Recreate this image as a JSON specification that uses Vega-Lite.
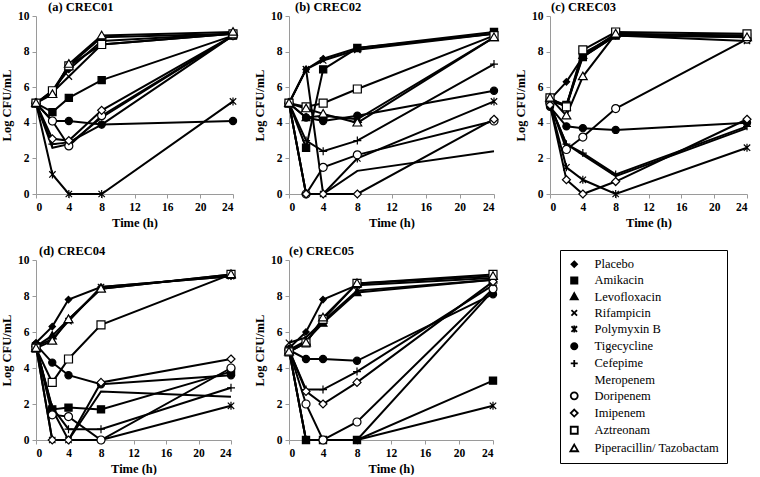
{
"$schema": "https://vega.github.io/schema/vega-lite/v6.json",
"padding": {"left": 0, "top": 0, "right": 0, "bottom": 0},
"background": "white",
"spacing": 15,
"config": {
  "view": {"stroke": null},
  "font": "Liberation Serif",
  "axis": {"grid": false, "labelOverlap": false, "labelFont": "Liberation Serif", "labelFontWeight": "bold", "labelFontSize": 11.5, "labelColor": "black", "titleFont": "Liberation Serif", "titleFontWeight": "bold", "titleFontSize": 12.5, "titleColor": "black", "domainColor": "#9a9a9a", "tickColor": "#9a9a9a", "tickSize": 4, "labelPadding": 3},
  "title": {"font": "Liberation Serif", "fontWeight": "bold", "fontSize": 12.5, "anchor": "start", "frame": "group", "offset": -3, "color": "black"},
  "legend": {"title": null, "orient": "none", "legendX": 524, "legendY": 234, "strokeColor": "black", "padding": 8, "labelFont": "Liberation Serif", "labelFontSize": 12.5, "labelFontWeight": "normal", "labelColor": "black", "symbolSize": 49, "symbolStrokeWidth": 1.8, "symbolStrokeColor": "black", "rowPadding": 2.2, "labelOffset": 14}
},
"resolve": {"scale": {"x": "independent", "y": "independent", "shape": "shared", "fill": "shared"}, "legend": {"shape": "shared", "fill": "shared"}},
"data": {"values": [
{"panel":"a","drug":"Placebo","time":0,"cfu":5.1},{"panel":"a","drug":"Placebo","time":2,"cfu":5.8},{"panel":"a","drug":"Placebo","time":4,"cfu":7.0},{"panel":"a","drug":"Placebo","time":8,"cfu":8.6},{"panel":"a","drug":"Placebo","time":24,"cfu":9.0},
{"panel":"a","drug":"Amikacin","time":0,"cfu":5.1},{"panel":"a","drug":"Amikacin","time":2,"cfu":4.6},{"panel":"a","drug":"Amikacin","time":4,"cfu":5.4},{"panel":"a","drug":"Amikacin","time":8,"cfu":6.4},{"panel":"a","drug":"Amikacin","time":24,"cfu":8.9},
{"panel":"a","drug":"Levofloxacin","time":0,"cfu":5.1},{"panel":"a","drug":"Levofloxacin","time":2,"cfu":5.7},{"panel":"a","drug":"Levofloxacin","time":4,"cfu":7.2},{"panel":"a","drug":"Levofloxacin","time":8,"cfu":8.8},{"panel":"a","drug":"Levofloxacin","time":24,"cfu":9.0},
{"panel":"a","drug":"Rifampicin","time":0,"cfu":5.1},{"panel":"a","drug":"Rifampicin","time":2,"cfu":5.7},{"panel":"a","drug":"Rifampicin","time":4,"cfu":6.6},{"panel":"a","drug":"Rifampicin","time":8,"cfu":8.4},{"panel":"a","drug":"Rifampicin","time":24,"cfu":9.0},
{"panel":"a","drug":"Polymyxin B","time":0,"cfu":5.1},{"panel":"a","drug":"Polymyxin B","time":2,"cfu":1.1},{"panel":"a","drug":"Polymyxin B","time":4,"cfu":0},{"panel":"a","drug":"Polymyxin B","time":8,"cfu":0},{"panel":"a","drug":"Polymyxin B","time":24,"cfu":5.2},
{"panel":"a","drug":"Tigecycline","time":0,"cfu":5.1},{"panel":"a","drug":"Tigecycline","time":2,"cfu":4.1},{"panel":"a","drug":"Tigecycline","time":4,"cfu":4.1},{"panel":"a","drug":"Tigecycline","time":8,"cfu":3.9},{"panel":"a","drug":"Tigecycline","time":24,"cfu":4.1},
{"panel":"a","drug":"Cefepime","time":0,"cfu":5.1},{"panel":"a","drug":"Cefepime","time":2,"cfu":2.8},{"panel":"a","drug":"Cefepime","time":4,"cfu":2.9},{"panel":"a","drug":"Cefepime","time":8,"cfu":3.9},{"panel":"a","drug":"Cefepime","time":24,"cfu":8.9},
{"panel":"a","drug":"Meropenem","time":0,"cfu":5.1},{"panel":"a","drug":"Meropenem","time":2,"cfu":2.6},{"panel":"a","drug":"Meropenem","time":4,"cfu":2.8},{"panel":"a","drug":"Meropenem","time":8,"cfu":4.3},{"panel":"a","drug":"Meropenem","time":24,"cfu":8.9},
{"panel":"a","drug":"Doripenem","time":0,"cfu":5.1},{"panel":"a","drug":"Doripenem","time":2,"cfu":4.1},{"panel":"a","drug":"Doripenem","time":4,"cfu":2.7},{"panel":"a","drug":"Doripenem","time":8,"cfu":4.4},{"panel":"a","drug":"Doripenem","time":24,"cfu":8.9},
{"panel":"a","drug":"Imipenem","time":0,"cfu":5.1},{"panel":"a","drug":"Imipenem","time":2,"cfu":3.1},{"panel":"a","drug":"Imipenem","time":4,"cfu":3.0},{"panel":"a","drug":"Imipenem","time":8,"cfu":4.7},{"panel":"a","drug":"Imipenem","time":24,"cfu":8.9},
{"panel":"a","drug":"Aztreonam","time":0,"cfu":5.1},{"panel":"a","drug":"Aztreonam","time":2,"cfu":5.8},{"panel":"a","drug":"Aztreonam","time":4,"cfu":7.2},{"panel":"a","drug":"Aztreonam","time":8,"cfu":8.4},{"panel":"a","drug":"Aztreonam","time":24,"cfu":9.0},
{"panel":"a","drug":"Piperacillin/ Tazobactam","time":0,"cfu":5.1},{"panel":"a","drug":"Piperacillin/ Tazobactam","time":2,"cfu":5.6},{"panel":"a","drug":"Piperacillin/ Tazobactam","time":4,"cfu":7.3},{"panel":"a","drug":"Piperacillin/ Tazobactam","time":8,"cfu":8.9},{"panel":"a","drug":"Piperacillin/ Tazobactam","time":24,"cfu":9.1},

{"panel":"b","drug":"Placebo","time":0,"cfu":5.1},{"panel":"b","drug":"Placebo","time":2,"cfu":7.0},{"panel":"b","drug":"Placebo","time":4,"cfu":7.6},{"panel":"b","drug":"Placebo","time":8,"cfu":8.2},{"panel":"b","drug":"Placebo","time":24,"cfu":9.0},
{"panel":"b","drug":"Amikacin","time":0,"cfu":5.1},{"panel":"b","drug":"Amikacin","time":2,"cfu":2.6},{"panel":"b","drug":"Amikacin","time":4,"cfu":7.0},{"panel":"b","drug":"Amikacin","time":8,"cfu":8.2},{"panel":"b","drug":"Amikacin","time":24,"cfu":9.1},
{"panel":"b","drug":"Levofloxacin","time":0,"cfu":5.1},{"panel":"b","drug":"Levofloxacin","time":2,"cfu":4.3},{"panel":"b","drug":"Levofloxacin","time":4,"cfu":4.4},{"panel":"b","drug":"Levofloxacin","time":8,"cfu":4.2},{"panel":"b","drug":"Levofloxacin","time":24,"cfu":8.8},
{"panel":"b","drug":"Rifampicin","time":0,"cfu":5.1},{"panel":"b","drug":"Rifampicin","time":2,"cfu":7.0},{"panel":"b","drug":"Rifampicin","time":4,"cfu":7.5},{"panel":"b","drug":"Rifampicin","time":8,"cfu":8.1},{"panel":"b","drug":"Rifampicin","time":24,"cfu":9.0},
{"panel":"b","drug":"Polymyxin B","time":0,"cfu":5.1},{"panel":"b","drug":"Polymyxin B","time":2,"cfu":7.0},{"panel":"b","drug":"Polymyxin B","time":4,"cfu":0},{"panel":"b","drug":"Polymyxin B","time":8,"cfu":2.0},{"panel":"b","drug":"Polymyxin B","time":24,"cfu":5.2},
{"panel":"b","drug":"Tigecycline","time":0,"cfu":5.1},{"panel":"b","drug":"Tigecycline","time":2,"cfu":4.3},{"panel":"b","drug":"Tigecycline","time":4,"cfu":4.1},{"panel":"b","drug":"Tigecycline","time":8,"cfu":4.4},{"panel":"b","drug":"Tigecycline","time":24,"cfu":5.8},
{"panel":"b","drug":"Cefepime","time":0,"cfu":5.1},{"panel":"b","drug":"Cefepime","time":2,"cfu":3.0},{"panel":"b","drug":"Cefepime","time":4,"cfu":2.4},{"panel":"b","drug":"Cefepime","time":8,"cfu":3.0},{"panel":"b","drug":"Cefepime","time":24,"cfu":7.3},
{"panel":"b","drug":"Meropenem","time":0,"cfu":5.1},{"panel":"b","drug":"Meropenem","time":2,"cfu":0},{"panel":"b","drug":"Meropenem","time":4,"cfu":0},{"panel":"b","drug":"Meropenem","time":8,"cfu":1.3},{"panel":"b","drug":"Meropenem","time":24,"cfu":2.4},
{"panel":"b","drug":"Doripenem","time":0,"cfu":5.1},{"panel":"b","drug":"Doripenem","time":2,"cfu":0},{"panel":"b","drug":"Doripenem","time":4,"cfu":1.5},{"panel":"b","drug":"Doripenem","time":8,"cfu":2.2},{"panel":"b","drug":"Doripenem","time":24,"cfu":4.1},
{"panel":"b","drug":"Imipenem","time":0,"cfu":5.1},{"panel":"b","drug":"Imipenem","time":2,"cfu":0},{"panel":"b","drug":"Imipenem","time":4,"cfu":0},{"panel":"b","drug":"Imipenem","time":8,"cfu":0},{"panel":"b","drug":"Imipenem","time":24,"cfu":4.2},
{"panel":"b","drug":"Aztreonam","time":0,"cfu":5.1},{"panel":"b","drug":"Aztreonam","time":2,"cfu":4.9},{"panel":"b","drug":"Aztreonam","time":4,"cfu":5.1},{"panel":"b","drug":"Aztreonam","time":8,"cfu":5.9},{"panel":"b","drug":"Aztreonam","time":24,"cfu":8.9},
{"panel":"b","drug":"Piperacillin/ Tazobactam","time":0,"cfu":5.1},{"panel":"b","drug":"Piperacillin/ Tazobactam","time":2,"cfu":4.8},{"panel":"b","drug":"Piperacillin/ Tazobactam","time":4,"cfu":4.5},{"panel":"b","drug":"Piperacillin/ Tazobactam","time":8,"cfu":4.0},{"panel":"b","drug":"Piperacillin/ Tazobactam","time":24,"cfu":8.8},

{"panel":"c","drug":"Placebo","time":0,"cfu":5.3},{"panel":"c","drug":"Placebo","time":2,"cfu":6.3},{"panel":"c","drug":"Placebo","time":4,"cfu":7.7},{"panel":"c","drug":"Placebo","time":8,"cfu":8.9},{"panel":"c","drug":"Placebo","time":24,"cfu":8.9},
{"panel":"c","drug":"Amikacin","time":0,"cfu":5.3},{"panel":"c","drug":"Amikacin","time":2,"cfu":5.0},{"panel":"c","drug":"Amikacin","time":4,"cfu":7.7},{"panel":"c","drug":"Amikacin","time":8,"cfu":8.9},{"panel":"c","drug":"Amikacin","time":24,"cfu":8.8},
{"panel":"c","drug":"Levofloxacin","time":0,"cfu":5.3},{"panel":"c","drug":"Levofloxacin","time":2,"cfu":4.9},{"panel":"c","drug":"Levofloxacin","time":4,"cfu":7.8},{"panel":"c","drug":"Levofloxacin","time":8,"cfu":9.0},{"panel":"c","drug":"Levofloxacin","time":24,"cfu":8.9},
{"panel":"c","drug":"Rifampicin","time":0,"cfu":5.2},{"panel":"c","drug":"Rifampicin","time":2,"cfu":5.0},{"panel":"c","drug":"Rifampicin","time":4,"cfu":7.9},{"panel":"c","drug":"Rifampicin","time":8,"cfu":8.9},{"panel":"c","drug":"Rifampicin","time":24,"cfu":8.6},
{"panel":"c","drug":"Polymyxin B","time":0,"cfu":5.0},{"panel":"c","drug":"Polymyxin B","time":2,"cfu":1.5},{"panel":"c","drug":"Polymyxin B","time":4,"cfu":0.8},{"panel":"c","drug":"Polymyxin B","time":8,"cfu":0},{"panel":"c","drug":"Polymyxin B","time":24,"cfu":2.6},
{"panel":"c","drug":"Tigecycline","time":0,"cfu":4.9},{"panel":"c","drug":"Tigecycline","time":2,"cfu":3.8},{"panel":"c","drug":"Tigecycline","time":4,"cfu":3.7},{"panel":"c","drug":"Tigecycline","time":8,"cfu":3.6},{"panel":"c","drug":"Tigecycline","time":24,"cfu":4.0},
{"panel":"c","drug":"Cefepime","time":0,"cfu":5.0},{"panel":"c","drug":"Cefepime","time":2,"cfu":2.8},{"panel":"c","drug":"Cefepime","time":4,"cfu":2.3},{"panel":"c","drug":"Cefepime","time":8,"cfu":1.1},{"panel":"c","drug":"Cefepime","time":24,"cfu":3.8},
{"panel":"c","drug":"Meropenem","time":0,"cfu":5.0},{"panel":"c","drug":"Meropenem","time":2,"cfu":2.8},{"panel":"c","drug":"Meropenem","time":4,"cfu":2.2},{"panel":"c","drug":"Meropenem","time":8,"cfu":1.0},{"panel":"c","drug":"Meropenem","time":24,"cfu":3.7},
{"panel":"c","drug":"Doripenem","time":0,"cfu":5.1},{"panel":"c","drug":"Doripenem","time":2,"cfu":2.5},{"panel":"c","drug":"Doripenem","time":4,"cfu":3.2},{"panel":"c","drug":"Doripenem","time":8,"cfu":4.8},{"panel":"c","drug":"Doripenem","time":24,"cfu":8.7},
{"panel":"c","drug":"Imipenem","time":0,"cfu":5.0},{"panel":"c","drug":"Imipenem","time":2,"cfu":0.8},{"panel":"c","drug":"Imipenem","time":4,"cfu":0},{"panel":"c","drug":"Imipenem","time":8,"cfu":0.7},{"panel":"c","drug":"Imipenem","time":24,"cfu":4.2},
{"panel":"c","drug":"Aztreonam","time":0,"cfu":5.4},{"panel":"c","drug":"Aztreonam","time":2,"cfu":4.9},{"panel":"c","drug":"Aztreonam","time":4,"cfu":8.1},{"panel":"c","drug":"Aztreonam","time":8,"cfu":9.1},{"panel":"c","drug":"Aztreonam","time":24,"cfu":9.0},
{"panel":"c","drug":"Piperacillin/ Tazobactam","time":0,"cfu":5.4},{"panel":"c","drug":"Piperacillin/ Tazobactam","time":2,"cfu":4.4},{"panel":"c","drug":"Piperacillin/ Tazobactam","time":4,"cfu":6.6},{"panel":"c","drug":"Piperacillin/ Tazobactam","time":8,"cfu":9.0},{"panel":"c","drug":"Piperacillin/ Tazobactam","time":24,"cfu":8.8},

{"panel":"d","drug":"Placebo","time":0,"cfu":5.4},{"panel":"d","drug":"Placebo","time":2,"cfu":6.3},{"panel":"d","drug":"Placebo","time":4,"cfu":7.8},{"panel":"d","drug":"Placebo","time":8,"cfu":8.5},{"panel":"d","drug":"Placebo","time":24,"cfu":9.1},
{"panel":"d","drug":"Amikacin","time":0,"cfu":5.2},{"panel":"d","drug":"Amikacin","time":2,"cfu":1.7},{"panel":"d","drug":"Amikacin","time":4,"cfu":1.8},{"panel":"d","drug":"Amikacin","time":8,"cfu":1.7},{"panel":"d","drug":"Amikacin","time":24,"cfu":3.8},
{"panel":"d","drug":"Levofloxacin","time":0,"cfu":5.2},{"panel":"d","drug":"Levofloxacin","time":2,"cfu":5.8},{"panel":"d","drug":"Levofloxacin","time":4,"cfu":6.7},{"panel":"d","drug":"Levofloxacin","time":8,"cfu":8.4},{"panel":"d","drug":"Levofloxacin","time":24,"cfu":9.2},
{"panel":"d","drug":"Rifampicin","time":0,"cfu":5.2},{"panel":"d","drug":"Rifampicin","time":2,"cfu":5.6},{"panel":"d","drug":"Rifampicin","time":4,"cfu":6.6},{"panel":"d","drug":"Rifampicin","time":8,"cfu":8.5},{"panel":"d","drug":"Rifampicin","time":24,"cfu":9.1},
{"panel":"d","drug":"Polymyxin B","time":0,"cfu":5.2},{"panel":"d","drug":"Polymyxin B","time":2,"cfu":0},{"panel":"d","drug":"Polymyxin B","time":4,"cfu":0},{"panel":"d","drug":"Polymyxin B","time":8,"cfu":0},{"panel":"d","drug":"Polymyxin B","time":24,"cfu":1.9},
{"panel":"d","drug":"Tigecycline","time":0,"cfu":5.3},{"panel":"d","drug":"Tigecycline","time":2,"cfu":4.3},{"panel":"d","drug":"Tigecycline","time":4,"cfu":3.6},{"panel":"d","drug":"Tigecycline","time":8,"cfu":3.1},{"panel":"d","drug":"Tigecycline","time":24,"cfu":3.6},
{"panel":"d","drug":"Cefepime","time":0,"cfu":5.2},{"panel":"d","drug":"Cefepime","time":2,"cfu":1.8},{"panel":"d","drug":"Cefepime","time":4,"cfu":0.6},{"panel":"d","drug":"Cefepime","time":8,"cfu":0.6},{"panel":"d","drug":"Cefepime","time":24,"cfu":2.9},
{"panel":"d","drug":"Meropenem","time":0,"cfu":5.2},{"panel":"d","drug":"Meropenem","time":2,"cfu":1.7},{"panel":"d","drug":"Meropenem","time":4,"cfu":0},{"panel":"d","drug":"Meropenem","time":8,"cfu":2.7},{"panel":"d","drug":"Meropenem","time":24,"cfu":2.4},
{"panel":"d","drug":"Doripenem","time":0,"cfu":5.2},{"panel":"d","drug":"Doripenem","time":2,"cfu":1.4},{"panel":"d","drug":"Doripenem","time":4,"cfu":1.3},{"panel":"d","drug":"Doripenem","time":8,"cfu":0},{"panel":"d","drug":"Doripenem","time":24,"cfu":4.0},
{"panel":"d","drug":"Imipenem","time":0,"cfu":5.2},{"panel":"d","drug":"Imipenem","time":2,"cfu":0},{"panel":"d","drug":"Imipenem","time":4,"cfu":0},{"panel":"d","drug":"Imipenem","time":8,"cfu":3.2},{"panel":"d","drug":"Imipenem","time":24,"cfu":4.5},
{"panel":"d","drug":"Aztreonam","time":0,"cfu":5.1},{"panel":"d","drug":"Aztreonam","time":2,"cfu":3.2},{"panel":"d","drug":"Aztreonam","time":4,"cfu":4.5},{"panel":"d","drug":"Aztreonam","time":8,"cfu":6.4},{"panel":"d","drug":"Aztreonam","time":24,"cfu":9.2},
{"panel":"d","drug":"Piperacillin/ Tazobactam","time":0,"cfu":5.1},{"panel":"d","drug":"Piperacillin/ Tazobactam","time":2,"cfu":5.5},{"panel":"d","drug":"Piperacillin/ Tazobactam","time":4,"cfu":6.7},{"panel":"d","drug":"Piperacillin/ Tazobactam","time":8,"cfu":8.4},{"panel":"d","drug":"Piperacillin/ Tazobactam","time":24,"cfu":9.2},

{"panel":"e","drug":"Placebo","time":0,"cfu":5.1},{"panel":"e","drug":"Placebo","time":2,"cfu":6.0},{"panel":"e","drug":"Placebo","time":4,"cfu":7.8},{"panel":"e","drug":"Placebo","time":8,"cfu":8.6},{"panel":"e","drug":"Placebo","time":24,"cfu":9.0},
{"panel":"e","drug":"Amikacin","time":0,"cfu":5.0},{"panel":"e","drug":"Amikacin","time":2,"cfu":0},{"panel":"e","drug":"Amikacin","time":4,"cfu":0},{"panel":"e","drug":"Amikacin","time":8,"cfu":0},{"panel":"e","drug":"Amikacin","time":24,"cfu":3.3},
{"panel":"e","drug":"Levofloxacin","time":0,"cfu":5.0},{"panel":"e","drug":"Levofloxacin","time":2,"cfu":5.5},{"panel":"e","drug":"Levofloxacin","time":4,"cfu":6.5},{"panel":"e","drug":"Levofloxacin","time":8,"cfu":8.2},{"panel":"e","drug":"Levofloxacin","time":24,"cfu":8.9},
{"panel":"e","drug":"Rifampicin","time":0,"cfu":5.4},{"panel":"e","drug":"Rifampicin","time":2,"cfu":5.7},{"panel":"e","drug":"Rifampicin","time":4,"cfu":6.6},{"panel":"e","drug":"Rifampicin","time":8,"cfu":8.3},{"panel":"e","drug":"Rifampicin","time":24,"cfu":8.9},
{"panel":"e","drug":"Polymyxin B","time":0,"cfu":5.0},{"panel":"e","drug":"Polymyxin B","time":2,"cfu":0},{"panel":"e","drug":"Polymyxin B","time":4,"cfu":0},{"panel":"e","drug":"Polymyxin B","time":8,"cfu":0},{"panel":"e","drug":"Polymyxin B","time":24,"cfu":1.9},
{"panel":"e","drug":"Tigecycline","time":0,"cfu":5.0},{"panel":"e","drug":"Tigecycline","time":2,"cfu":4.5},{"panel":"e","drug":"Tigecycline","time":4,"cfu":4.5},{"panel":"e","drug":"Tigecycline","time":8,"cfu":4.4},{"panel":"e","drug":"Tigecycline","time":24,"cfu":8.1},
{"panel":"e","drug":"Cefepime","time":0,"cfu":5.0},{"panel":"e","drug":"Cefepime","time":2,"cfu":2.8},{"panel":"e","drug":"Cefepime","time":4,"cfu":2.8},{"panel":"e","drug":"Cefepime","time":8,"cfu":3.8},{"panel":"e","drug":"Cefepime","time":24,"cfu":8.6},
{"panel":"e","drug":"Meropenem","time":0,"cfu":5.0},{"panel":"e","drug":"Meropenem","time":2,"cfu":0},{"panel":"e","drug":"Meropenem","time":4,"cfu":0},{"panel":"e","drug":"Meropenem","time":8,"cfu":0},{"panel":"e","drug":"Meropenem","time":24,"cfu":8.3},
{"panel":"e","drug":"Doripenem","time":0,"cfu":5.0},{"panel":"e","drug":"Doripenem","time":2,"cfu":2.0},{"panel":"e","drug":"Doripenem","time":4,"cfu":0},{"panel":"e","drug":"Doripenem","time":8,"cfu":1.0},{"panel":"e","drug":"Doripenem","time":24,"cfu":8.4},
{"panel":"e","drug":"Imipenem","time":0,"cfu":5.0},{"panel":"e","drug":"Imipenem","time":2,"cfu":2.7},{"panel":"e","drug":"Imipenem","time":4,"cfu":2.0},{"panel":"e","drug":"Imipenem","time":8,"cfu":3.2},{"panel":"e","drug":"Imipenem","time":24,"cfu":8.8},
{"panel":"e","drug":"Aztreonam","time":0,"cfu":4.9},{"panel":"e","drug":"Aztreonam","time":2,"cfu":5.4},{"panel":"e","drug":"Aztreonam","time":4,"cfu":6.7},{"panel":"e","drug":"Aztreonam","time":8,"cfu":8.7},{"panel":"e","drug":"Aztreonam","time":24,"cfu":9.2},
{"panel":"e","drug":"Piperacillin/ Tazobactam","time":0,"cfu":4.9},{"panel":"e","drug":"Piperacillin/ Tazobactam","time":2,"cfu":5.4},{"panel":"e","drug":"Piperacillin/ Tazobactam","time":4,"cfu":6.8},{"panel":"e","drug":"Piperacillin/ Tazobactam","time":8,"cfu":8.7},{"panel":"e","drug":"Piperacillin/ Tazobactam","time":24,"cfu":9.1}
]},
"vconcat": [
{"hconcat": [
  {"width": 197, "height": 178, "title": {"text": "(a) CREC01", "dx": 12},
   "transform": [{"filter": "datum.panel === 'a'"}],
   "encoding": {"x": {"field": "time", "type": "quantitative", "scale": {"domain": [0, 24]}, "axis": {"values": [0,4,8,12,16,20,24], "labelOverlap": false, "title": "Time (h)"}}, "y": {"field": "cfu", "type": "quantitative", "scale": {"domain": [0, 10]}, "axis": {"values": [0,2,4,6,8,10], "labelOverlap": false, "title": "Log CFU/mL"}}},
   "layer": [
    {"mark": {"type": "line", "color": "black", "strokeWidth": 2}, "encoding": {"detail": {"field": "drug"}}},
    {"mark": {"type": "point", "stroke": "black", "strokeWidth": 1.2, "size": 64, "opacity": 1}, "encoding": {
      "shape": {"field": "drug", "type": "nominal", "scale": {"domain": ["Placebo","Amikacin","Levofloxacin","Rifampicin","Polymyxin B","Tigecycline","Cefepime","Meropenem","Doripenem","Imipenem","Aztreonam","Piperacillin/ Tazobactam"], "range": ["M0,-0.8L0.8,0L0,0.8L-0.8,0Z","M-0.9,-0.9H0.9V0.9H-0.9Z","M0,-1L1,0.8H-1Z","M-0.8,-0.8L0.8,0.8M-0.8,0.8L0.8,-0.8","M-0.8,-0.8L0.8,0.8M-0.8,0.8L0.8,-0.8M0,-1V1","M-0.9,0A0.9,0.9 0 1,0 0.9,0A0.9,0.9 0 1,0 -0.9,0Z","M-1,0H1M0,-1V1","M0,0","M-1,0A1,1 0 1,0 1,0A1,1 0 1,0 -1,0Z","M0,-1L1,0L0,1L-1,0Z","M-1,-1H1V1H-1Z","M0,-1.1L1.1,0.8H-1.1Z"]},
        "legend": {"encoding": {"symbols": {"stroke": {"value": "black"}, "strokeWidth": {"value": 1.8}}}}},
      "fill": {"field": "drug", "type": "nominal", "scale": {"domain": ["Placebo","Amikacin","Levofloxacin","Rifampicin","Polymyxin B","Tigecycline","Cefepime","Meropenem","Doripenem","Imipenem","Aztreonam","Piperacillin/ Tazobactam"], "range": ["black","black","black","black","black","black","black","black","white","white","white","white"]},
        "legend": {"encoding": {"symbols": {"stroke": {"value": "black"}, "strokeWidth": {"value": 1.8}}}}}}}
   ]},
  {"width": 205, "height": 178, "title": {"text": "(b) CREC02", "dx": 6},
   "transform": [{"filter": "datum.panel === 'b'"}],
   "encoding": {"x": {"field": "time", "type": "quantitative", "scale": {"domain": [0, 24]}, "axis": {"values": [0,4,8,12,16,20,24], "labelOverlap": false, "title": "Time (h)"}}, "y": {"field": "cfu", "type": "quantitative", "scale": {"domain": [0, 10]}, "axis": {"values": [0,2,4,6,8,10], "labelOverlap": false, "title": "Log CFU/mL"}}},
   "layer": [
    {"mark": {"type": "line", "color": "black", "strokeWidth": 2}, "encoding": {"detail": {"field": "drug"}}},
    {"mark": {"type": "point", "stroke": "black", "strokeWidth": 1.2, "size": 64, "opacity": 1}, "encoding": {"shape": {"field": "drug", "type": "nominal"}, "fill": {"field": "drug", "type": "nominal"}}}
   ]},
  {"width": 197, "height": 178, "title": {"text": "(c) CREC03", "dx": 1},
   "transform": [{"filter": "datum.panel === 'c'"}],
   "encoding": {"x": {"field": "time", "type": "quantitative", "scale": {"domain": [0, 24]}, "axis": {"values": [0,4,8,12,16,20,24], "labelOverlap": false, "title": "Time (h)"}}, "y": {"field": "cfu", "type": "quantitative", "scale": {"domain": [0, 10]}, "axis": {"values": [0,2,4,6,8,10], "labelOverlap": false, "title": "Log CFU/mL"}}},
   "layer": [
    {"mark": {"type": "line", "color": "black", "strokeWidth": 2}, "encoding": {"detail": {"field": "drug"}}},
    {"mark": {"type": "point", "stroke": "black", "strokeWidth": 1.2, "size": 64, "opacity": 1}, "encoding": {"shape": {"field": "drug", "type": "nominal"}, "fill": {"field": "drug", "type": "nominal"}}}
   ]}
 ], "bounds": "flush", "spacing": 56, "resolve": {"scale": {"x": "independent", "y": "independent"}}},
{"hconcat": [
  {"width": 195, "height": 180, "title": {"text": "(d) CREC04", "dx": 3},
   "transform": [{"filter": "datum.panel === 'd'"}],
   "encoding": {"x": {"field": "time", "type": "quantitative", "scale": {"domain": [0, 24]}, "axis": {"values": [0,4,8,12,16,20,24], "labelOverlap": false, "title": "Time (h)"}}, "y": {"field": "cfu", "type": "quantitative", "scale": {"domain": [0, 10]}, "axis": {"values": [0,2,4,6,8,10], "labelOverlap": false, "title": "Log CFU/mL"}}},
   "layer": [
    {"mark": {"type": "line", "color": "black", "strokeWidth": 2}, "encoding": {"detail": {"field": "drug"}}},
    {"mark": {"type": "point", "stroke": "black", "strokeWidth": 1.2, "size": 64, "opacity": 1}, "encoding": {"shape": {"field": "drug", "type": "nominal"}, "fill": {"field": "drug", "type": "nominal"}}}
   ]},
  {"width": 204, "height": 180, "title": {"text": "(e) CREC05", "dx": 0},
   "transform": [{"filter": "datum.panel === 'e'"}],
   "encoding": {"x": {"field": "time", "type": "quantitative", "scale": {"domain": [0, 24]}, "axis": {"values": [0,4,8,12,16,20,24], "labelOverlap": false, "title": "Time (h)"}}, "y": {"field": "cfu", "type": "quantitative", "scale": {"domain": [0, 10]}, "axis": {"values": [0,2,4,6,8,10], "labelOverlap": false, "title": "Log CFU/mL"}}},
   "layer": [
    {"mark": {"type": "line", "color": "black", "strokeWidth": 2}, "encoding": {"detail": {"field": "drug"}}},
    {"mark": {"type": "point", "stroke": "black", "strokeWidth": 1.2, "size": 64, "opacity": 1}, "encoding": {"shape": {"field": "drug", "type": "nominal"}, "fill": {"field": "drug", "type": "nominal"}}}
   ]}
 ], "bounds": "flush", "spacing": 58, "resolve": {"scale": {"x": "independent", "y": "independent"}}}
]
}
